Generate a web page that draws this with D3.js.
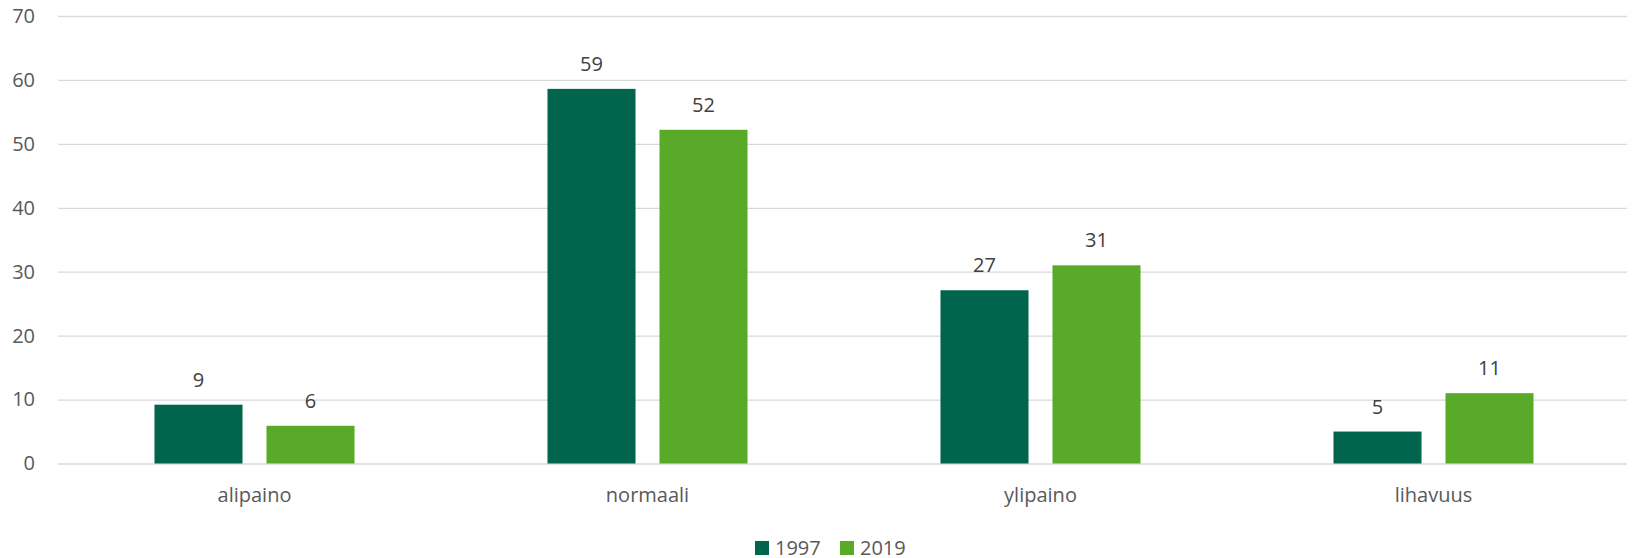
<!DOCTYPE html>
<html>
<head>
<meta charset="utf-8">
<script src="https://cdn.jsdelivr.net/npm/d3@7"></script>
<style>
  body { margin: 0; background: #fff; }
  text { font-family: "Open Sans", "Noto Sans", sans-serif; }
</style>
</head>
<body>
<div id="chart"></div>
<script>
var categories = ['alipaino', 'normaali', 'ylipaino', 'lihavuus'];
var series = ['1997', '2019'];
var values1997 = [9.2, 58.6, 27.1, 5.0];
var values2019 = [5.9, 52.2, 31.0, 11.0];
var yTicks = [0, 10, 20, 30, 40, 50, 60, 70];

var width = 1632,
    height = 558,
    plotLeft = 58,
    plotRight = 1630,
    plotTop = 16,
    plotBottom = 463.5;

var colors = { '1997': '#00654c', '2019': '#5aaa2a' };

var svg = d3.select('#chart').append('svg')
    .attr('width', width).attr('height', height);

var y = d3.scaleLinear().domain([0, 70]).range([plotBottom, plotTop]);

var x0 = d3.scaleBand().domain(categories).range([plotLeft, plotRight])
    .paddingInner(0.491).paddingOuter(0.2455);

var x1 = d3.scaleBand().domain(series).range([0, x0.bandwidth()])
    .paddingInner(0.214).paddingOuter(0);

// gridlines + y labels
var yAxis = d3.axisLeft(y).tickValues(yTicks).tickSize(-(plotRight - plotLeft - 3)).tickPadding(23);
var gy = svg.append('g').attr('transform', 'translate(' + plotLeft + ',0)').call(yAxis);
gy.select('.domain').remove();
gy.selectAll('.tick line').attr('stroke', '#d9d9d9').attr('stroke-width', 1.3);
gy.selectAll('.tick text').attr('fill', '#595959').style('font-size', '20px');

var rows = [];
categories.forEach(function(c, i){
    rows.push({cat: c, s: '1997', v: values1997[i]});
    rows.push({cat: c, s: '2019', v: values2019[i]});
});

svg.append('g').selectAll('rect')
    .data(rows)
    .enter().append('rect')
    .attr('x', function(d){ return x0(d.cat) + x1(d.s); })
    .attr('y', function(d){ return y(d.v); })
    .attr('width', x1.bandwidth())
    .attr('height', function(d){ return plotBottom - y(d.v); })
    .attr('fill', function(d){ return colors[d.s]; });

svg.append('g').selectAll('text')
    .data(rows)
    .enter().append('text')
    .attr('x', function(d){ return x0(d.cat) + x1(d.s) + x1.bandwidth() / 2; })
    .attr('y', function(d){ return y(d.v) - 18; })
    .attr('text-anchor', 'middle')
    .attr('fill', '#404040')
    .style('font-size', '20px')
    .text(function(d){ return Math.round(d.v); });

// category labels
var xAxis = d3.axisBottom(x0).tickSize(0).tickPadding(0);
var gx = svg.append('g').attr('transform', 'translate(0,' + (plotBottom + 24) + ')').call(xAxis);
gx.select('.domain').remove();
gx.selectAll('.tick text').attr('fill', '#595959').style('font-size', '20px').attr('dy', '0.71em');

// legend
var legend = svg.append('g');
var lx = d3.scaleOrdinal().domain(series).range([755, 840]);
var item = legend.selectAll('g').data(series).enter().append('g')
    .attr('transform', function(s){ return 'translate(' + lx(s) + ',541)'; });
item.append('rect').attr('width', 14).attr('height', 14).attr('fill', function(s){ return colors[s]; });
item.append('text').attr('x', 20).attr('y', 7).attr('dy', '0.35em')
    .attr('fill', '#595959').style('font-size', '20px').text(function(s){ return s; });
</script>
</body>
</html>
